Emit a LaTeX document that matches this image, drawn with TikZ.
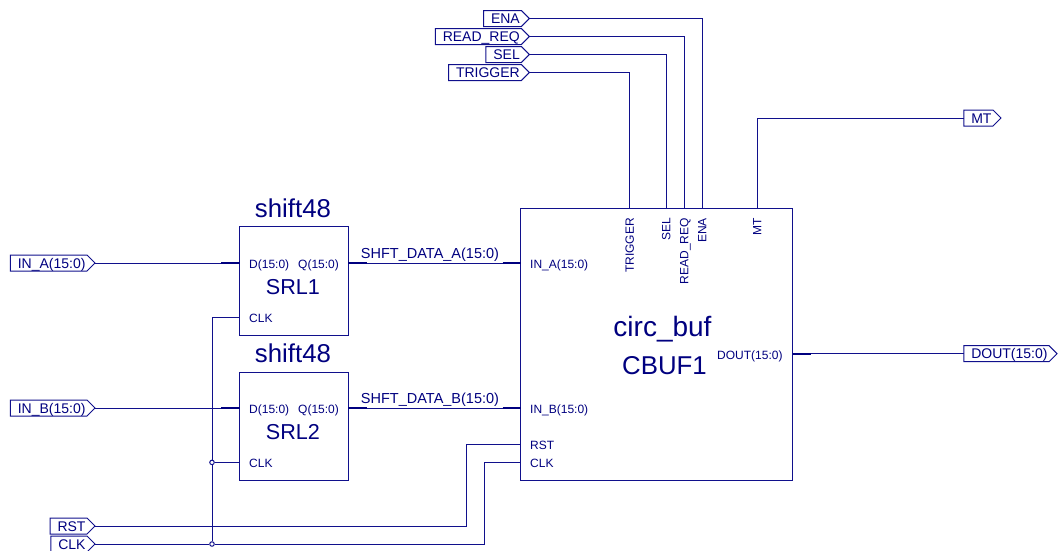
\documentclass[tikz,border=0pt]{standalone}
\usepackage{fontspec}
\setmainfont{Liberation Sans}
\usetikzlibrary{shapes}
\definecolor{wirecol}{HTML}{10108C}
\definecolor{textcol}{HTML}{00007F}

\begin{document}
\begin{tikzpicture}[x=1pt,y=-1pt]
        \tikzstyle{every node}=[text=textcol]
        \tikzstyle{wire}=[draw=wirecol,line width=1pt]
        \tikzstyle{bus}=[draw=textcol,line width=2.2pt]
        \tikzstyle{block}=[rectangle,draw=wirecol,line width=1pt,anchor=north west,inner sep=0pt,outer sep=0pt]
        \tikzstyle{port}=[signal,signal to=east,draw=wirecol,line width=1pt,anchor=east,minimum height=16pt,inner xsep=1.5pt,inner ysep=0pt,outer sep=0pt,text height=10pt,text depth=0pt,font=\fontsize{14}{16}\selectfont,execute at begin node={\hspace*{6pt}}]
        \tikzstyle{pinlabel}=[inner sep=0pt,text height=8.6pt,text depth=0pt,font=\fontsize{12}{14}\selectfont]
        \tikzstyle{instlabel}=[inner sep=0pt,font=\fontsize{21.6}{24}\selectfont]
        \tikzstyle{typelabel}=[inner sep=0pt,font=\fontsize{25.8}{28}\selectfont]
        \tikzstyle{netlabel}=[inner sep=0pt,font=\fontsize{14.5}{16}\selectfont]
        \tikzstyle{junction}=[circle,draw=wirecol,fill=white,line width=1pt,inner sep=0pt,minimum size=4.5pt]
        \clip (0,0) rectangle (1063,550);

        % blocks
        \node (SRL1) [block,minimum width=108.8pt,minimum height=109pt] at (239.5,226.7) {};
        \node (SRL2) [block,minimum width=108.8pt,minimum height=108pt] at (239.5,372) {};
        \node (CBUF1) [block,minimum width=272pt,minimum height=271.6pt] at (520.7,208.7) {};

        \node (SRL1type) [typelabel] at (293,208) {shift48};
        \node (SRL2type) [typelabel] at (293,353) {shift48};
        \node (SRL1name) [instlabel] at (293,287) {SRL1};
        \node (SRL2name) [instlabel] at (293,432) {SRL2};
        \node (CBUF1type) [typelabel,font=\fontsize{28}{30}\selectfont] at (662.5,329) {circ\_buf};
        \node (CBUF1name) [typelabel] at (664.5,366) {CBUF1};

        % ports
        \node (IN_A) [port] at (95,263) {IN\_A(15:0)};
        \node (IN_B) [port] at (95,408) {IN\_B(15:0)};
        \node (RST) [port] at (95,526) {RST};
        \node (CLK) [port] at (95,544) {CLK};
        \node (ENA) [port] at (529.3,18.5) {ENA};
        \node (READ_REQ) [port] at (529.3,36.5) {READ\_REQ};
        \node (SEL) [port] at (529.3,54.5) {SEL};
        \node (TRIGGER) [port] at (529.3,72.5) {TRIGGER};
        \node (MT) [port] at (1001,118) {MT};
        \node (DOUT) [port] at (1057,353.7) {DOUT(15:0)};

        % pin labels
        \foreach \blk/\y in {SRL1/263,SRL2/408} {
            \node (\blk D) [pinlabel,anchor=west] at (249,\y+1) {D(15:0)};
            \node (\blk Q) [pinlabel,anchor=west] at (298,\y+1) {Q(15:0)};
        }
        \node (SRL1C) [pinlabel,anchor=west] at (249,318) {CLK};
        \node (SRL2C) [pinlabel,anchor=west] at (249,463) {CLK};
        \node (CBUFA) [pinlabel,anchor=west] at (530,264) {IN\_A(15:0)};
        \node (CBUFB) [pinlabel,anchor=west] at (530,409) {IN\_B(15:0)};
        \node (CBUFR) [pinlabel,anchor=west] at (530,445) {RST};
        \node (CBUFC) [pinlabel,anchor=west] at (530,463) {CLK};
        \node (CBUFD) [pinlabel,anchor=east] at (782.7,355) {DOUT(15:0)};
        \foreach \nm/\x/\txt in {TRIG/629.5/TRIGGER,SELP/666/SEL,READ/684/READ\_REQ,ENAP/702/ENA,MTP/757/MT}
            \node (\nm) [pinlabel,rotate=90,anchor=east] at (\x,218) {\txt};

        % net labels
        \node (NETA) [netlabel] at (430,254.5) {SHFT\_DATA\_A(15:0)};
        \node (NETB) [netlabel] at (430,399.5) {SHFT\_DATA\_B(15:0)};

        % pin points
        \coordinate (SRL1in) at (239.5,263);
        \coordinate (SRL1out) at (348.3,263);
        \coordinate (SRL1clk) at (239.5,317.7);
        \coordinate (SRL2in) at (239.5,408);
        \coordinate (SRL2out) at (348.3,408);
        \coordinate (SRL2clk) at (239.5,462.4);
        \coordinate (CBUFin1) at (520.7,263);
        \coordinate (CBUFin2) at (520.7,408);
        \coordinate (CBUFrst) at (520.7,444.3);
        \coordinate (CBUFclk) at (520.7,462.4);
        \coordinate (CBUFout) at (792.7,353.7);
        \coordinate (rstbend) at (466,444.3);
        \coordinate (clkbend) at (484.5,462.4);
        \coordinate (SRL1stub) at (221,263);
        \coordinate (SRL2stub) at (221,408);
        \coordinate (Q1stub) at (366.5,263);
        \coordinate (Q2stub) at (366.5,408);
        \coordinate (A1stub) at (502.5,263);
        \coordinate (B1stub) at (502.5,408);
        \coordinate (Dstub) at (811,353.7);

        \node (J1) [junction] at (212,462.4) {};
        \node (J2) [junction] at (212,544) {};

        % wires
        \draw [wire] (IN_A.east) -- (SRL1in);
        \draw [wire] (IN_B.east) -- (SRL2in);
        \draw [wire] (SRL1out) -- (CBUFin1);
        \draw [wire] (SRL2out) -- (CBUFin2);
        \draw [wire] (CBUFout) -- (DOUT.west);
        \draw [wire] (SRL1clk) -| (J1);
        \draw [wire] (SRL2clk) -- (J1);
        \draw [wire] (J1) -- (J2);
        \draw [wire] (CLK.east) -- (J2);
        \draw [wire] (J2) -| (clkbend) -- (CBUFclk);
        \draw [wire] (RST.east) -| (rstbend) -- (CBUFrst);
        \draw [wire] (ENA.east) -| (702,208.7);
        \draw [wire] (READ_REQ.east) -| (684,208.7);
        \draw [wire] (SEL.east) -| (666,208.7);
        \draw [wire] (TRIGGER.east) -| (629.5,208.7);
        \draw [wire] (MT.west) -| (757,208.7);

        % bus stubs
        \draw [bus] (SRL1stub) -- (SRL1in);
        \draw [bus] (SRL2stub) -- (SRL2in);
        \draw [bus] (SRL1out) -- (Q1stub);
        \draw [bus] (SRL2out) -- (Q2stub);
        \draw [bus] (A1stub) -- (CBUFin1);
        \draw [bus] (B1stub) -- (CBUFin2);
        \draw [bus] (CBUFout) -- (Dstub);
\end{tikzpicture}
\end{document}
